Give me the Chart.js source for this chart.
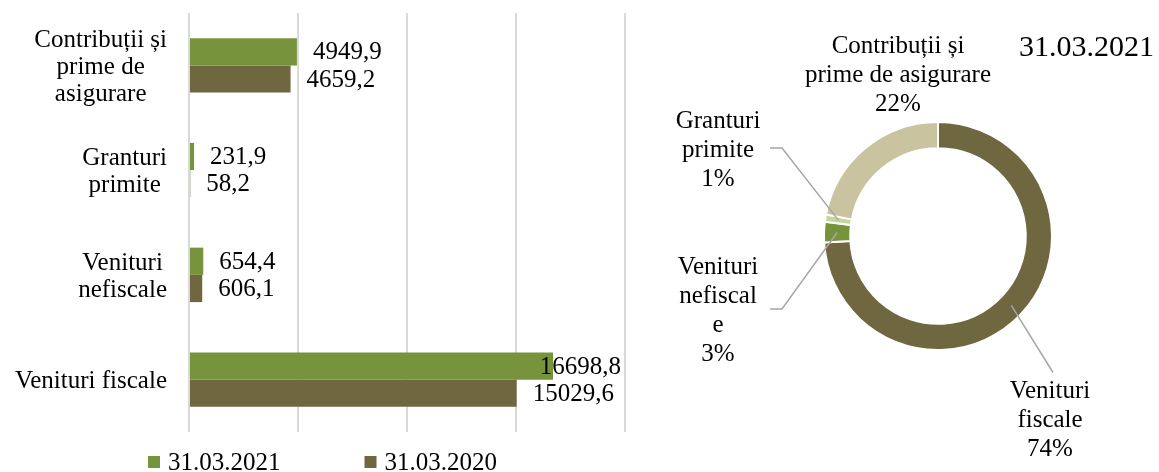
<!DOCTYPE html>
<html>
<head>
<meta charset="utf-8">
<script src="https://cdn.jsdelivr.net/npm/chart.js@4"></script>
<style>
  body { margin: 0; background: #fff; }
  #wrap { position: relative; width: 1159px; height: 472px; }
  #bar-box { position: absolute; left: 0; top: 0; width: 645px; height: 472px; }
  #pie-box { position: absolute; left: 645px; top: 0; width: 514px; height: 472px; }
</style>
</head>
<body>
<div id="wrap">
  <div id="bar-box"><canvas id="bar-chart"></canvas></div>
  <div id="pie-box"><canvas id="pie-chart"></canvas></div>
</div>
<script>
// chart data
const categories = ['Venituri fiscale', 'Venituri nefiscale', 'Granturi primite', 'Contribuții și prime de asigurare'];
const axisLabelLines = [['Venituri fiscale'], ['Venituri', 'nefiscale'], ['Granturi', 'primite'], ['Contribuții și', 'prime de', 'asigurare']];
const pieLabelLines = [['Venituri', 'fiscale'], ['Venituri', 'nefiscal', 'e'], ['Granturi', 'primite'], ['Contribuții și', 'prime de asigurare']];
const seriesNames = ['31.03.2021', '31.03.2020'];
const values2021 = [16698.8, 654.4, 231.9, 4949.9];
const values2020 = [15029.6, 606.1, 58.2, 4659.2];
const xMax = 20000;
const xStep = 5000;

const FONT = "'Liberation Serif', serif";
const green = '#77933C';
const brown = '#6F6740';
const sliceColors = [brown, green, '#C3D69B', '#C9C3A0'];

const fmt = v => v.toFixed(1).replace('.', ',');

// category labels, value labels and legend for the bar chart
const barText = {
    id: 'barText',
    afterDatasetsDraw(chart) {
        const ctx = chart.ctx;
        const area = chart.chartArea;
        const yScale = chart.scales.y;
        ctx.save();
        ctx.fillStyle = '#000';
        ctx.font = '25px ' + FONT;
        ctx.textBaseline = 'middle';

        // category labels, lines centred in a block
        axisLabelLines.forEach((lines, i) => {
            const y = yScale.getPixelForValue(i);
            let w = 0;
            lines.forEach(l => { w = Math.max(w, ctx.measureText(l).width); });
            const cx = area.left - 22 - w / 2;
            ctx.textAlign = 'center';
            lines.forEach((l, j) => {
                ctx.fillText(l, cx, y + (j - (lines.length - 1) / 2) * 27 + 2);
            });
        });

        // value labels
        ctx.textAlign = 'left';
        chart.data.datasets.forEach((ds, d) => {
            chart.getDatasetMeta(d).data.forEach((bar, i) => {
                const txt = fmt(ds.data[i]);
                const w = ctx.measureText(txt).width;
                let x = bar.x + 16;
                if (x + w > area.right - 4) x = area.right - 4 - w;
                ctx.fillText(txt, x, bar.y + 1);
            });
        });

        // legend
        const box = 12;
        const gap = 84;
        const items = chart.data.datasets.map(ds => ({ color: ds.backgroundColor, text: ds.label, w: box + 8 + ctx.measureText(ds.label).width }));
        let total = items.reduce((s, it) => s + it.w, 0) + gap * (items.length - 1);
        let x = chart.width / 2 - total / 2;
        const ly = chart.height - 10;
        items.forEach(it => {
            ctx.fillStyle = it.color;
            ctx.fillRect(x, ly - box / 2, box, box);
            ctx.fillStyle = '#000';
            ctx.fillText(it.text, x + box + 8, ly + 1);
            x += it.w + gap;
        });
        ctx.restore();
    }
};

new Chart(document.getElementById('bar-chart'), {
    type: 'bar',
    data: {
        labels: categories,
        datasets: [
            { label: seriesNames[0], data: values2021, backgroundColor: green },
            { label: seriesNames[1], data: values2020, backgroundColor: brown }
        ]
    },
    options: {
        indexAxis: 'y',
        responsive: true,
        maintainAspectRatio: false,
        animation: false,
        categoryPercentage: 0.52,
        barPercentage: 1.0,
        layout: { padding: { left: 189, right: 20, top: 13, bottom: 40 } },
        scales: {
            x: {
                min: 0,
                max: xMax,
                ticks: { display: false, stepSize: xStep },
                grid: { color: '#D9D9D9', lineWidth: 2, drawTicks: false },
                border: { display: false }
            },
            y: {
                display: false,
                reverse: true
            }
        },
        plugins: {
            legend: { display: false },
            tooltip: { enabled: false }
        }
    },
    plugins: [barText]
});

// pie label placement: block centre relative to ring centre, and leader style
const pieLabelOffsets = [[112, 184], [-220, 75], [-220, -86], [-40, -161]];
const pieLeaders = ['top', 'side', 'side', 'none'];

const pieText = {
    id: 'pieText',
    afterDatasetsDraw(chart) {
        const ctx = chart.ctx;
        const meta = chart.getDatasetMeta(0);
        const data = chart.data.datasets[0].data;
        const total = data.reduce((a, b) => a + b, 0);
        const lh = 29;
        ctx.save();
        ctx.font = '25px ' + FONT;
        ctx.textBaseline = 'middle';
        ctx.textAlign = 'center';
        meta.data.forEach((arc, i) => {
            const cx = arc.x + pieLabelOffsets[i][0];
            const cy = arc.y + pieLabelOffsets[i][1];
            const lines = pieLabelLines[i].concat([Math.round(data[i] / total * 100) + '%']);
            const top = cy - lines.length * lh / 2;
            const p = arc.getCenterPoint();

            ctx.strokeStyle = '#A6A6A6';
            ctx.lineWidth = 1.5;
            if (pieLeaders[i] === 'top') {
                ctx.beginPath();
                ctx.moveTo(p.x, p.y);
                ctx.lineTo(cx + 3, top - 4);
                ctx.stroke();
            } else if (pieLeaders[i] === 'side') {
                const ex = cx + 52;
                ctx.beginPath();
                ctx.moveTo(p.x, p.y);
                ctx.lineTo(ex + 12, cy - 2);
                ctx.lineTo(ex, cy - 2);
                ctx.stroke();
            }

            ctx.fillStyle = '#000';
            lines.forEach((l, j) => {
                ctx.fillText(l, cx, top + lh / 2 + j * lh);
            });
        });

        // title
        ctx.font = '30px ' + FONT;
        ctx.textAlign = 'right';
        ctx.fillText(seriesNames[0], chart.width - 5, 48);
        ctx.restore();
    }
};

new Chart(document.getElementById('pie-chart'), {
    type: 'doughnut',
    data: {
        labels: categories,
        datasets: [{
            data: values2021,
            backgroundColor: sliceColors,
            borderColor: '#fff',
            borderWidth: 2
        }]
    },
    options: {
        responsive: true,
        maintainAspectRatio: false,
        animation: false,
        cutout: '77%',
        layout: { padding: { left: 178, right: 106, top: 121, bottom: 121 } },
        plugins: {
            legend: { display: false },
            tooltip: { enabled: false }
        }
    },
    plugins: [pieText]
});
</script>
</body>
</html>
